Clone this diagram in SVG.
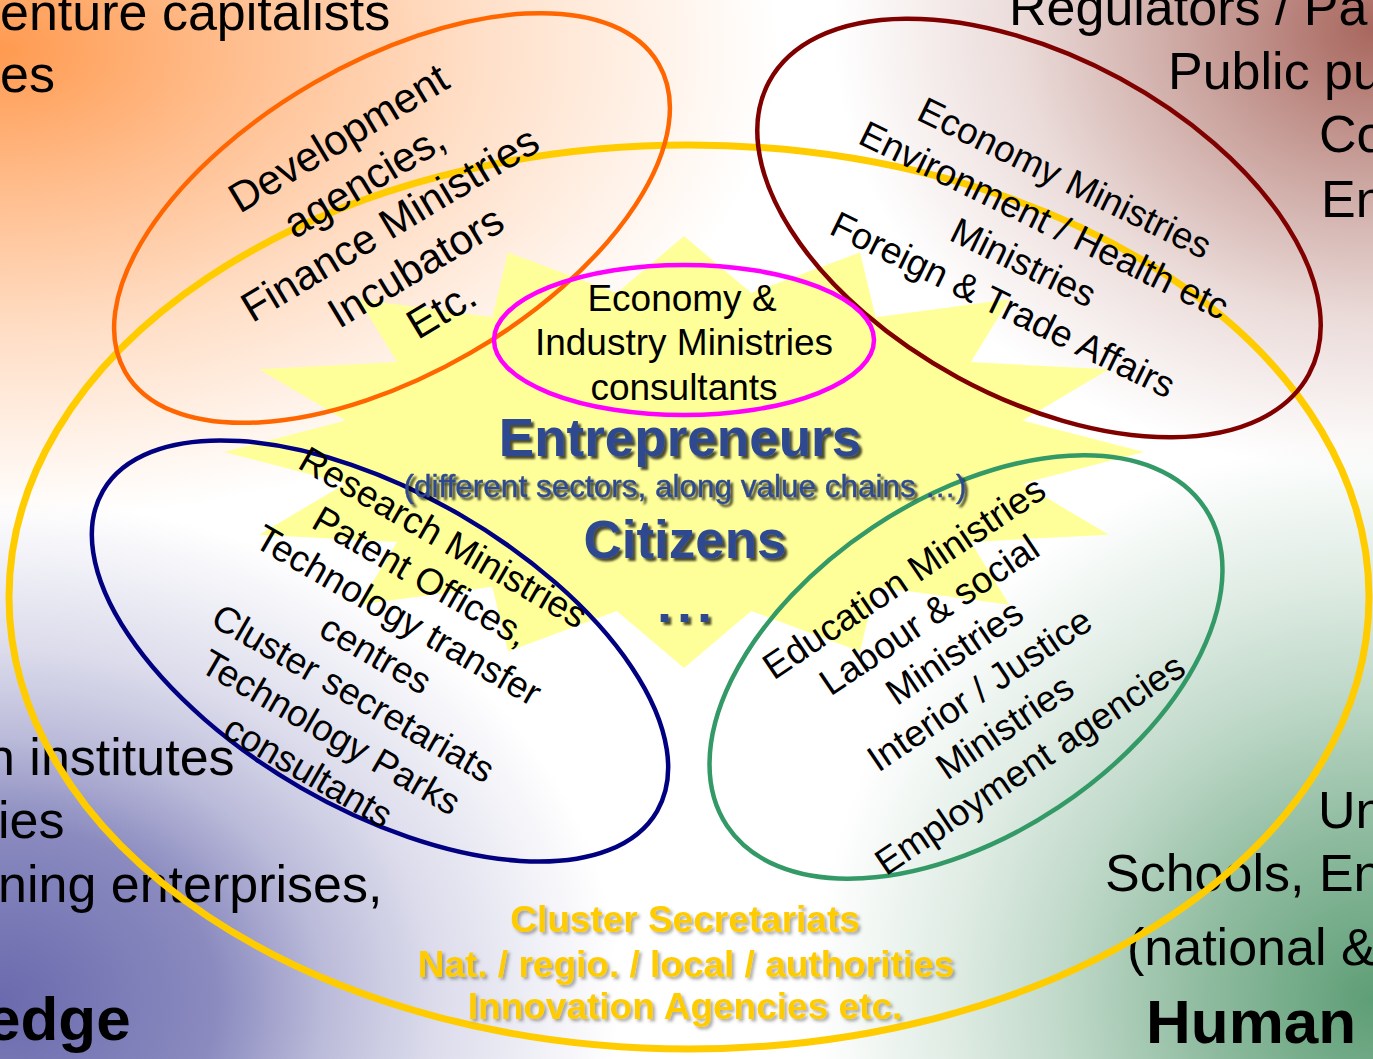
<svg xmlns="http://www.w3.org/2000/svg" width="1373" height="1059" viewBox="0 0 1373 1059">
<defs>
<radialGradient id="gTL" gradientUnits="userSpaceOnUse" cx="0" cy="0" r="1" gradientTransform="translate(0,50) scale(780,470)">
<stop offset="0" stop-color="#FF9A50" stop-opacity="1"/>
<stop offset="0.3" stop-color="#FF9A50" stop-opacity="0.65"/>
<stop offset="0.6" stop-color="#FF9A50" stop-opacity="0.33"/>
<stop offset="0.85" stop-color="#FF9A50" stop-opacity="0.12"/>
<stop offset="1" stop-color="#FF9A50" stop-opacity="0"/>
</radialGradient>
<radialGradient id="gTR" gradientUnits="userSpaceOnUse" cx="0" cy="0" r="1" gradientTransform="translate(1373,30) scale(540,440)">
<stop offset="0" stop-color="#A8675E" stop-opacity="1"/>
<stop offset="0.35" stop-color="#A8675E" stop-opacity="0.58"/>
<stop offset="0.66" stop-color="#A8675E" stop-opacity="0.23"/>
<stop offset="1" stop-color="#A8675E" stop-opacity="0"/>
</radialGradient>
<radialGradient id="gBL" gradientUnits="userSpaceOnUse" cx="0" cy="0" r="1" gradientTransform="translate(0,1000) scale(620,500)">
<stop offset="0" stop-color="#6A6AAE" stop-opacity="1"/>
<stop offset="0.35" stop-color="#6A6AAE" stop-opacity="0.78"/>
<stop offset="0.53" stop-color="#6A6AAE" stop-opacity="0.45"/>
<stop offset="0.7" stop-color="#6A6AAE" stop-opacity="0.24"/>
<stop offset="1" stop-color="#6A6AAE" stop-opacity="0"/>
</radialGradient>
<radialGradient id="gBR" gradientUnits="userSpaceOnUse" cx="0" cy="0" r="1" gradientTransform="translate(1373,1000) scale(560,560)">
<stop offset="0" stop-color="#5E9E76" stop-opacity="1"/>
<stop offset="0.3" stop-color="#5E9E76" stop-opacity="0.7"/>
<stop offset="0.55" stop-color="#5E9E76" stop-opacity="0.4"/>
<stop offset="0.75" stop-color="#5E9E76" stop-opacity="0.2"/>
<stop offset="1" stop-color="#5E9E76" stop-opacity="0"/>
</radialGradient>
<filter id="sh" x="-10%" y="-30%" width="130%" height="170%">
<feDropShadow dx="3" dy="3" stdDeviation="1.3" flood-color="#000" flood-opacity="0.7"/>
</filter>
<filter id="sh2" x="-10%" y="-30%" width="130%" height="170%">
<feDropShadow dx="2.5" dy="2.5" stdDeviation="1.5" flood-color="#444" flood-opacity="0.45"/>
</filter>
</defs>
<style>
text { font-family: "Liberation Sans", Arial, sans-serif; fill: #000; }
.bg { font-size: 52px; }
.bgb { font-size: 62px; font-weight: bold; }
.el { font-size: 37px; text-anchor: middle; }
.el42 { font-size: 42px; text-anchor: middle; }
.ring { fill: none; stroke-width: 4.5; }
.blue { fill: #2E4A8F; font-weight: bold; text-anchor: middle; filter: url(#sh); }
.blueR { fill: #2E4A8F; font-size: 31.5px; text-anchor: middle; filter: url(#sh); stroke: #2E4A8F; stroke-width: 0.4; }
.yel { fill: #FFCC00; font-weight: bold; font-size: 37px; text-anchor: middle; filter: url(#sh2); }
</style>

<g id="background">
<rect x="0" y="0" width="1373" height="1059" fill="#FFFFFF"/>
<rect x="0" y="0" width="1373" height="1059" fill="url(#gTL)"/>
<rect x="0" y="0" width="1373" height="1059" fill="url(#gTR)"/>
<rect x="0" y="0" width="1373" height="1059" fill="url(#gBL)"/>
<rect x="0" y="0" width="1373" height="1059" fill="url(#gBR)"/>
</g>

<g id="corner-texts">
<text class="bg" x="0" y="30">enture capitalists</text>
<text class="bg" x="0" y="92">es</text>
<text class="bg" x="1009" y="25">Regulators / Pa</text>
<text class="bg" x="1168" y="89">Public pu</text>
<text class="bg" x="1319" y="152">Co</text>
<text class="bg" x="1321" y="217">En</text>
<text class="bg" x="-14" y="775">n institutes</text>
<text class="bg" x="-2" y="838">ies</text>
<text class="bg" x="-2" y="902">ning enterprises,</text>
<text class="bgb" x="-14" y="1040">edge</text>
<text class="bg" x="1318" y="828">Un</text>
<text class="bg" x="1105" y="891">Schools, En</text>
<text class="bg" x="1127" y="965">(national &amp;</text>
<text class="bgb" x="1146" y="1043">Human</text>
</g>

<g id="n-star">
<path fill="#FFFF99" d="M1144,452 L1022.4,420.4 L1109,369.3 L970.9,362 L1009.3,299.3 L875.7,317.3 L860,252.4 L751.3,293.1 L684,236 L616.7,293.1 L508,252.4 L492.3,317.3 L358.7,299.3 L397.1,362 L259,369.3 L345.6,420.4 L224,452 L345.6,483.6 L259,534.7 L397.1,542 L358.7,604.7 L492.3,586.7 L508,651.6 L616.7,610.9 L684,668 L751.3,610.9 L860,651.6 L875.7,586.7 L1009.3,604.7 L970.9,542 L1109,534.7 L1022.4,483.6 Z"/>
</g>

<g id="n-cluster-ring">
<ellipse cx="689" cy="597" rx="680" ry="452" fill="none" stroke="#FFCC00" stroke-width="7"/>
</g>

<g id="connectors"></g>

<g id="n-finance">
<ellipse class="ring" cx="392" cy="218" rx="308" ry="156" transform="rotate(-30 392 218)" stroke="#FF6600"/>
<g transform="translate(390,224) rotate(-31)">
<text class="el42" x="0" y="-86">Development</text>
<text class="el42" x="0" y="-36">agencies,</text>
<text class="el42" x="0" y="14">Finance Ministries</text>
<text class="el42" x="0" y="64">Incubators</text>
<text class="el42" x="0" y="114">Etc.</text>
</g>
</g>

<g id="n-economy">
<ellipse class="ring" cx="1039" cy="228" rx="307" ry="170" transform="rotate(28.5 1039 228)" stroke="#800000"/>
<g transform="translate(1034,241) rotate(26)">
<text class="el" x="0" y="-57.5">Economy Ministries</text>
<text class="el" x="0" y="-10.5">Environment / Health etc</text>
<text class="el" x="0" y="36.5">Ministries</text>
<text class="el" x="0" y="83.5">Foreign &amp; Trade Affairs</text>
</g>
</g>

<g id="n-research">
<ellipse class="ring" cx="380" cy="651" rx="320" ry="158" transform="rotate(30 380 651)" stroke="#000080"/>
<g transform="translate(376,654) rotate(30)">
<text class="el" x="0" y="-122">Research Ministries</text>
<text class="el" x="0" y="-77">Patent Offices,</text>
<text class="el" x="0" y="-32">Technology transfer</text>
<text class="el" x="0" y="13">centres</text>
<text class="el" x="0" y="58">Cluster secretariats</text>
<text class="el" x="0" y="103">Technology Parks</text>
<text class="el" x="0" y="148">consultants</text>
</g>
</g>

<g id="n-education">
<ellipse class="ring" cx="966" cy="667" rx="287" ry="168" transform="rotate(-33.6 966 667)" stroke="#339966"/>
<g transform="translate(967,671) rotate(-34)">
<text class="el" x="0" y="-100">Education Ministries</text>
<text class="el" x="0" y="-55">Labour &amp; social</text>
<text class="el" x="0" y="-10">Ministries</text>
<text class="el" x="0" y="35">Interior / Justice</text>
<text class="el" x="0" y="80">Ministries</text>
<text class="el" x="0" y="125">Employment agencies</text>
</g>
</g>

<g id="n-industry">
<ellipse class="ring" cx="684" cy="340" rx="190" ry="75" stroke="#FF00FF"/>
<text class="el" x="682" y="311">Economy &amp;</text>
<text class="el" x="684" y="355">Industry Ministries</text>
<text class="el" x="684" y="400">consultants</text>
</g>

<g id="n-entrepreneurs">
<text class="blue" x="680" y="456" font-size="53">Entrepreneurs</text>
<text class="blueR" x="685" y="497">(different sectors, along value chains …)</text>
<text class="blue" x="685" y="558" font-size="53">Citizens</text>
<text class="blue" x="687" y="622" font-size="54" letter-spacing="5">...</text>
</g>

<g id="n-intermediaries">
<text class="yel" x="685" y="932">Cluster Secretariats</text>
<text class="yel" x="686" y="977">Nat. / regio. / local / authorities</text>
<text class="yel" x="685" y="1019">Innovation Agencies etc.</text>
</g>
</svg>
